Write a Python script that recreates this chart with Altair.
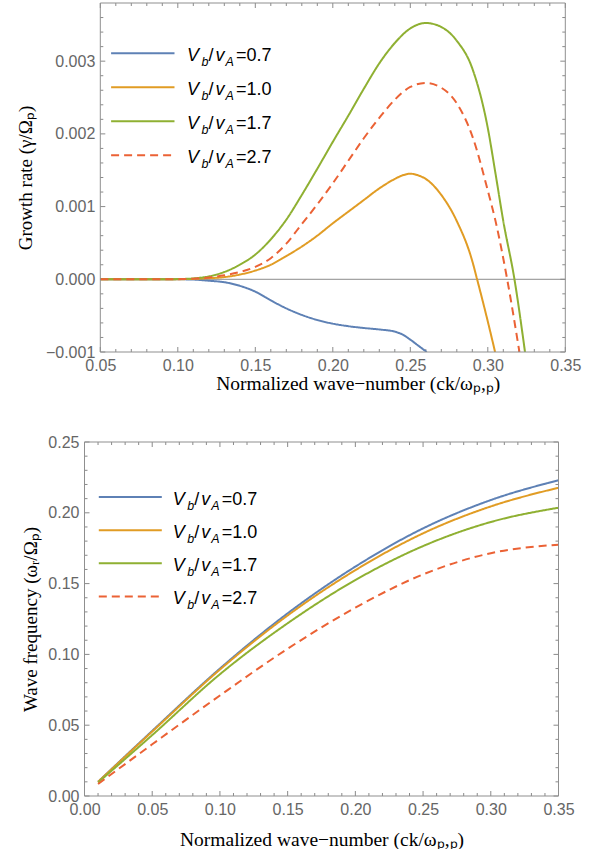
import altair as alt
import pandas as pd

SERIES = ["0.7", "1.0", "1.7", "2.7"]
COLORS = ["#5E81B5", "#E19C24", "#8FB032", "#EB6235"]
DASHES = [[1, 0], [1, 0], [1, 0], [8, 5]]

# ---------------- top panel: growth rate ----------------
k_g_07 = [0.05, 0.08, 0.10, 0.11, 0.12, 0.13, 0.14, 0.15, 0.16, 0.17, 0.18, 0.19,
          0.20, 0.21, 0.22, 0.23, 0.24, 0.245, 0.25, 0.255, 0.2606]
g_07 = [0.0, 0.0, 0.0, -0.000004, -0.00002, -0.00004, -0.00009, -0.00017, -0.00029,
        -0.00040, -0.00049, -0.00056, -0.00061, -0.000645, -0.00067, -0.00069,
        -0.00072, -0.00076, -0.00083, -0.00091, -0.0010]

k_g_10 = [0.05, 0.09, 0.10, 0.11, 0.12, 0.13, 0.14, 0.15, 0.16, 0.17, 0.18, 0.19,
          0.20, 0.21, 0.22, 0.23, 0.24, 0.245, 0.25, 0.255, 0.26, 0.27, 0.28, 0.29,
          0.2931, 0.30, 0.3047]
g_10 = [0.0, 0.0, 0.000001, 0.000005, 0.000015, 0.00003, 0.000065, 0.00012, 0.00020,
        0.00032, 0.00045, 0.00060, 0.00077, 0.00093, 0.00109, 0.00125, 0.00138,
        0.00143, 0.001452, 0.00143, 0.00138, 0.00116, 0.00080, 0.00025, 0.0,
        -0.00058, -0.0010]

k_g_17 = [0.05, 0.09, 0.10, 0.11, 0.12, 0.13, 0.14, 0.15, 0.16, 0.17, 0.18, 0.19,
          0.20, 0.21, 0.22, 0.23, 0.24, 0.25, 0.26, 0.27, 0.28, 0.29, 0.30, 0.305,
          0.31, 0.3172, 0.324]
g_17 = [0.0, 0.0, 0.000003, 0.000012, 0.00004, 0.00010, 0.00020, 0.00034, 0.00055,
        0.00082, 0.00116, 0.00152, 0.00189, 0.00225, 0.00262, 0.00297, 0.00325,
        0.00345, 0.003525, 0.00347, 0.00328, 0.00290, 0.00208, 0.00145, 0.00080,
        0.0, -0.0010]

k_g_27 = [0.05, 0.09, 0.10, 0.11, 0.12, 0.13, 0.14, 0.15, 0.16, 0.17, 0.18, 0.19,
          0.20, 0.21, 0.22, 0.23, 0.24, 0.25, 0.26, 0.27, 0.28, 0.29, 0.30, 0.305,
          0.3125, 0.3204]
g_27 = [0.0, 0.0, 0.000002, 0.000008, 0.000025, 0.000055, 0.00010, 0.00017, 0.00029,
        0.00049, 0.00076, 0.00103, 0.00132, 0.00163, 0.00194, 0.00222, 0.00247,
        0.002645, 0.00270, 0.002635, 0.00242, 0.00197, 0.00122, 0.00080, 0.0, -0.0010]

# ---------------- bottom panel: wave frequency ----------------
k_w = [0.01, 0.05, 0.10, 0.15, 0.20, 0.25, 0.30, 0.35]
w_07 = [0.0100, 0.0460, 0.0900, 0.1290, 0.1620, 0.1890, 0.2090, 0.2230]
w_10 = [0.0100, 0.0455, 0.0893, 0.1275, 0.1595, 0.1855, 0.2045, 0.2177]
w_17 = [0.0095, 0.0430, 0.0860, 0.1220, 0.1525, 0.1765, 0.1935, 0.2036]
w_27 = [0.0085, 0.0365, 0.0710, 0.1040, 0.1330, 0.1565, 0.1715, 0.1775]

# tick positions (major ticks carry labels, minor ticks are unlabeled)
top_x_major = [0.05, 0.10, 0.15, 0.20, 0.25, 0.30, 0.35]
top_x_minor = [round(0.05 + 0.01 * i, 2) for i in range(31) if i % 5 != 0]
top_y_major = [-0.001, 0.0, 0.001, 0.002, 0.003]
top_y_minor = [round(-0.001 + 0.0002 * i, 4) for i in range(24) if i % 5 != 0]
bot_x_major = [0.0, 0.05, 0.10, 0.15, 0.20, 0.25, 0.30, 0.35]
bot_x_minor = [round(0.01 * i, 2) for i in range(36) if i % 5 != 0]
bot_y_major = [0.0, 0.05, 0.10, 0.15, 0.20, 0.25]
bot_y_minor = [round(0.01 * i, 2) for i in range(26) if i % 5 != 0]

top_df = pd.concat([
    pd.DataFrame({"k": k, "g": g, "series": s})
    for k, g, s in [(k_g_07, g_07, "0.7"), (k_g_10, g_10, "1.0"),
                    (k_g_17, g_17, "1.7"), (k_g_27, g_27, "2.7")]
], ignore_index=True)
bot_df = pd.concat([
    pd.DataFrame({"k": k_w, "w": w, "series": s})
    for w, s in [(w_07, "0.7"), (w_10, "1.0"), (w_17, "1.7"), (w_27, "2.7")]
], ignore_index=True)
zero_df = pd.DataFrame({"g": [0.0]})
frame_df = pd.DataFrame({"f": [0]})
legend_df = pd.DataFrame({"series": SERIES, "row": [0, 1, 2, 3],
                          "eq": ["=" + s for s in SERIES]})

SANS = "Liberation Sans"
SERIF = "Liberation Serif"
FRAME = "#8f8f8f"
TICK = "#8a8a8a"
LABEL = "#666666"

color_enc = alt.Color("series:N", scale=alt.Scale(domain=SERIES, range=COLORS), legend=None)
dash_enc = alt.StrokeDash("series:N", scale=alt.Scale(domain=SERIES, range=DASHES), legend=None)

X_EXPR = "format(datum.value, '.2f')"
Y_TOP_EXPR = ("datum.value < -1e-9 ? '\u2212' + format(-datum.value, '.3f') "
              ": format(abs(datum.value), '.3f')")

MAJ, MIN = 5, 3


def panel(df, yfield, xdom, ydom, xmaj, xmin, ymaj, ymin, xexpr, yexpr, inset, w, h,
          xtitle, ytitle, xtitle_pad, ytitle_pad, xtitle_x, leg_sym, leg_x0, leg_rows,
          zero_line):
    W = w + inset
    xs = alt.Scale(domain=xdom, range=[inset, W], nice=False, zero=False)
    ys = alt.Scale(domain=ydom, nice=False, zero=False)
    common = dict(ticks=False, tickSize=0, domain=False, grid=False,
                  labelFlush=False, labelOverlap=False, labelFont=SANS,
                  labelFontSize=16, labelColor=LABEL, titleFontWeight="normal",
                  titleColor="black")
    xkw = dict(orient="bottom", values=xmaj, labelExpr=xexpr, labelPadding=5,
               title=xtitle, titleFont=SERIF, titleFontSize=19.5,
               titlePadding=xtitle_pad, offset=0, **common)
    if xtitle_x is not None:
        xkw["titleX"] = xtitle_x
    x_main = alt.Axis(**xkw)
    y_main = alt.Axis(orient="left", values=ymaj, labelExpr=yexpr, labelPadding=5.5,
                      title=ytitle, titleFont=SERIF, titleFontSize=19,
                      titlePadding=ytitle_pad, offset=-inset, **common)

    layers = []
    if zero_line:
        layers.append(
            alt.Chart(zero_df).mark_rule(color="#8c8c8c", strokeWidth=1).encode(
                x=alt.value(inset), x2=alt.value(W),
                y=alt.Y("g:Q", scale=ys, axis=y_main)))
    # frame ticks (inward), drawn from the tick-position lists through the scales
    for vals, ln in [(xmaj, MAJ), (xmin, MIN)]:
        tdf = pd.DataFrame({"v": vals})
        layers.append(alt.Chart(tdf).mark_rule(color=TICK, strokeWidth=1).encode(
            x=alt.X("v:Q", scale=xs, axis=x_main), y=alt.value(h), y2=alt.value(h - ln)))
        layers.append(alt.Chart(tdf).mark_rule(color=TICK, strokeWidth=1).encode(
            x=alt.X("v:Q", scale=xs, axis=x_main), y=alt.value(0), y2=alt.value(ln)))
    for vals, ln in [(ymaj, MAJ), (ymin, MIN)]:
        tdf = pd.DataFrame({"v": vals})
        layers.append(alt.Chart(tdf).mark_rule(color=TICK, strokeWidth=1).encode(
            y=alt.Y("v:Q", scale=ys, axis=y_main), x=alt.value(inset), x2=alt.value(inset + ln)))
        layers.append(alt.Chart(tdf).mark_rule(color=TICK, strokeWidth=1).encode(
            y=alt.Y("v:Q", scale=ys, axis=y_main), x=alt.value(W), x2=alt.value(W - ln)))

    layers.append(alt.Chart(df).mark_line(strokeWidth=2, interpolate="monotone", clip=True).encode(
        x=alt.X("k:Q", scale=xs, axis=x_main),
        y=alt.Y(yfield + ":Q", scale=ys, axis=y_main),
        color=color_enc,
        strokeDash=dash_enc,
    ))
    plot = alt.layer(*layers)

    ly = alt.Y("row:Q", scale=alt.Scale(domain=[0, 3], range=leg_rows), axis=None)
    sym = alt.Chart(legend_df).mark_rule(strokeWidth=2).encode(
        x=alt.value(inset + leg_sym[0]), x2=alt.value(inset + leg_sym[1]), y=ly,
        color=color_enc, strokeDash=dash_enc)
    x0 = inset + leg_x0

    def piece(txt, dx, size, italic, sub):
        return alt.Chart(legend_df).mark_text(
            text=txt, align="left", baseline="alphabetic", font=SANS, fontSize=size,
            fontStyle="italic" if italic else "normal", dy=13 if sub else 8,
            color="black").encode(x=alt.value(x0 + dx), y=ly)

    eq = alt.Chart(legend_df).mark_text(
        align="left", baseline="alphabetic", font=SANS, fontSize=18, dy=8,
        color="black").encode(x=alt.value(x0 + 49), y=ly, text=alt.Text("eq:N"))
    frame = alt.Chart(frame_df).mark_rect(fillOpacity=0, stroke=FRAME, strokeWidth=1).encode(
        x=alt.value(inset), x2=alt.value(W), y=alt.value(0), y2=alt.value(h))
    legend = alt.layer(
        sym,
        piece("V", 0, 18, True, False),
        piece("b", 14.5, 12.5, True, True),
        piece("/", 21.5, 18, False, False),
        piece("v", 28.5, 18, True, False),
        piece("A", 38.5, 12.5, True, True),
        eq,
        frame,
    )
    return alt.layer(plot, legend).resolve_scale(y="independent").properties(width=W, height=h)


INSET = 15.8
top = panel(top_df, "g", [0.05, 0.35], [-0.001, 0.0038], top_x_major, top_x_minor,
            top_y_major, top_y_minor, X_EXPR, Y_TOP_EXPR, INSET, 465, 349,
            "Normalized wave\u2212number  (ck/\u03c9\u209a,\u209a)", "Growth rate (\u03b3/\u03a9\u209a)",
            1, 9.6, INSET + 257.5, (10.8, 74.2), 86.8, [50.3, 152.3], True)
bottom = panel(bot_df, "w", [0.0, 0.35], [0.0, 0.25], bot_x_major, bot_x_minor,
               bot_y_major, bot_y_minor, X_EXPR, X_EXPR, 0, 474, 354,
               "Normalized wave\u2212number  (ck/\u03c9\u209a,\u209a)", "Wave frequency (\u03c9\u1d63/\u03a9\u209a)",
               13, 7.6, None, (14.3, 77.3), 88.3, [55, 154.4], False)

chart = alt.vconcat(top, bottom, spacing=41).properties(
    padding={"left": 16.5, "top": 2, "right": 0, "bottom": 0},
    background="white",
).configure_view(strokeOpacity=0)

chart.save("out.html", embed_options={"renderer": "svg", "actions": False})
